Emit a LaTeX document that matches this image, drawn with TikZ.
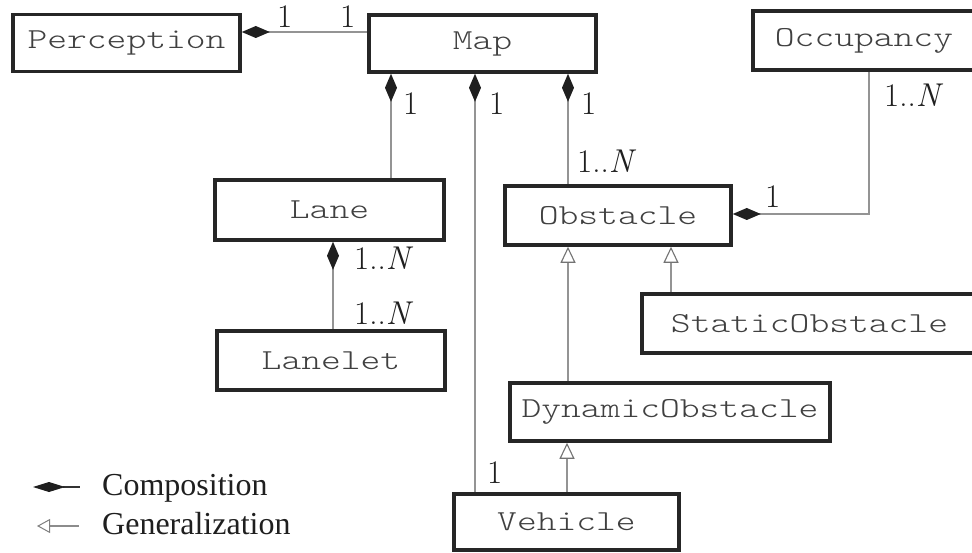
\documentclass[tikz,border=0pt]{standalone}
\usepackage{graphicx}
\usepackage{fontspec}
\newfontfamily\legendfont{Liberation Serif}
\newfontfamily\clsfont{lmmonolt10-regular.otf}
\usetikzlibrary{arrows.meta}

% class names: light typewriter face, widened a little
\newcommand\clsname[1]{\scalebox{1.3}[1]{#1}}

\tikzset{
  cls/.style={draw=black!85, line width=3.6pt, inner sep=0pt, fill=white,
    font=\fontsize{29}{34}\clsfont, text=black!75},
  link/.style={draw=black!42, line width=1.3pt},
  comp/.style={link, {Diamond[length=28pt,width=12pt,color=black!88,fill=black!88]}-},
  gen/.style={link, {Triangle[open,length=16pt,width=15pt,color=black!55,fill=white,line width=1.1pt]}-},
  mult/.style={inner sep=0pt, anchor=base west, text=black!88,
    font=\fontsize{33}{38}\selectfont},
  legend/.style={inner sep=0pt, anchor=base west, text=black!88,
    font=\fontsize{32}{38}\legendfont},
}

\begin{document}
\begin{tikzpicture}[x=1pt, y=-1pt]
  \useasboundingbox (0,0) rectangle (972,553);
  \clip (0,0) rectangle (972,553);
  \fill[white] (0,0) rectangle (972,553);

  % classes
  \node[cls, minimum width=227pt, minimum height=57pt] (per)     at (126.5,43)  {\clsname{Perception}};
  \node[cls, minimum width=227pt, minimum height=57pt] (map)     at (482.5,43.5){\clsname{Map}};
  \node[cls, minimum width=222pt, minimum height=59pt] (occ)     at (864,40.5)  {\clsname{Occupancy}};
  \node[cls, minimum width=229pt, minimum height=60pt] (lane)    at (329.5,210) {\clsname{Lane}};
  \node[cls, minimum width=228pt, minimum height=59pt] (lanelet) at (331,360.5) {\clsname{Lanelet}};
  \node[cls, minimum width=226pt, minimum height=59pt] (obs)     at (618,215.5) {\clsname{Obstacle}};
  \node[cls, minimum width=335pt, minimum height=59pt] (static)  at (809.5,323.5){\clsname{StaticObstacle}};
  \node[cls, minimum width=320pt, minimum height=58pt] (dyn)     at (670,412)   {\clsname{DynamicObstacle}};
  \node[cls, minimum width=225pt, minimum height=56pt] (veh)     at (566.5,522) {\clsname{Vehicle}};

  % compositions
  \draw[comp] ([yshift=11pt]per.east) -- ([yshift=11pt]per.east -| map.west);
  \draw[comp] ([xshift=-91.5pt]map.south) -- ([xshift=61.5pt]lane.north);
  \draw[comp] ([xshift=-7.5pt]map.south) -- ([xshift=-91.5pt]veh.north);
  \draw[comp] ([xshift=85.5pt]map.south) -- ([xshift=-50pt]obs.north);
  \draw[comp] ([yshift=1.5pt]obs.east) -- ([yshift=1.5pt,xshift=5pt]obs.east -| occ.south)
              -- ([xshift=5pt]occ.south);
  \draw[comp] ([xshift=3.5pt]lane.south) -- ([xshift=2pt]lanelet.north);

  % generalizations
  \draw[gen] ([xshift=-50pt]obs.south) -- ([xshift=-102pt]dyn.north);
  \draw[gen] ([xshift=53pt]obs.south) -- ([xshift=-138.5pt]static.north);
  \draw[gen] ([xshift=-103pt]dyn.south) -- ([xshift=0.5pt]veh.north);

  % multiplicities
  \node[mult] (m1)  at (277,28)  {1};
  \node[mult] (m2)  at (340,28)  {1};
  \node[mult] (m3)  at (403,115) {1};
  \node[mult] (m4)  at (489,115) {1};
  \node[mult] (m5)  at (581,115) {1};
  \node[mult] (m6)  at (577,173) {1..\textit{N}};
  \node[mult] (m7)  at (884,107) {1..\textit{N}};
  \node[mult] (m8)  at (765,208) {1};
  \node[mult] (m9)  at (354,270) {1..\textit{N}};
  \node[mult] (m10) at (354,325) {1..\textit{N}};
  \node[mult] (m11) at (487,483) {1};

  % legend
  \coordinate (lc1) at (33,487);
  \coordinate (lc2) at (80,487);
  \coordinate (lg1) at (37,526);
  \coordinate (lg2) at (79,526);
  \draw[draw=black!80, line width=1.1pt,
        {Diamond[length=32pt,width=10pt,color=black!88,fill=black!88]}-] (lc1) -- (lc2);
  \draw[draw=black!45, line width=1.1pt,
        {Triangle[open,length=13pt,width=14pt,color=black!50,fill=white,line width=1pt]}-] (lg1) -- (lg2);
  \node[legend] (lt1) at (102,495) {Composition};
  \node[legend] (lt2) at (102,534) {Generalization};
\end{tikzpicture}
\end{document}
